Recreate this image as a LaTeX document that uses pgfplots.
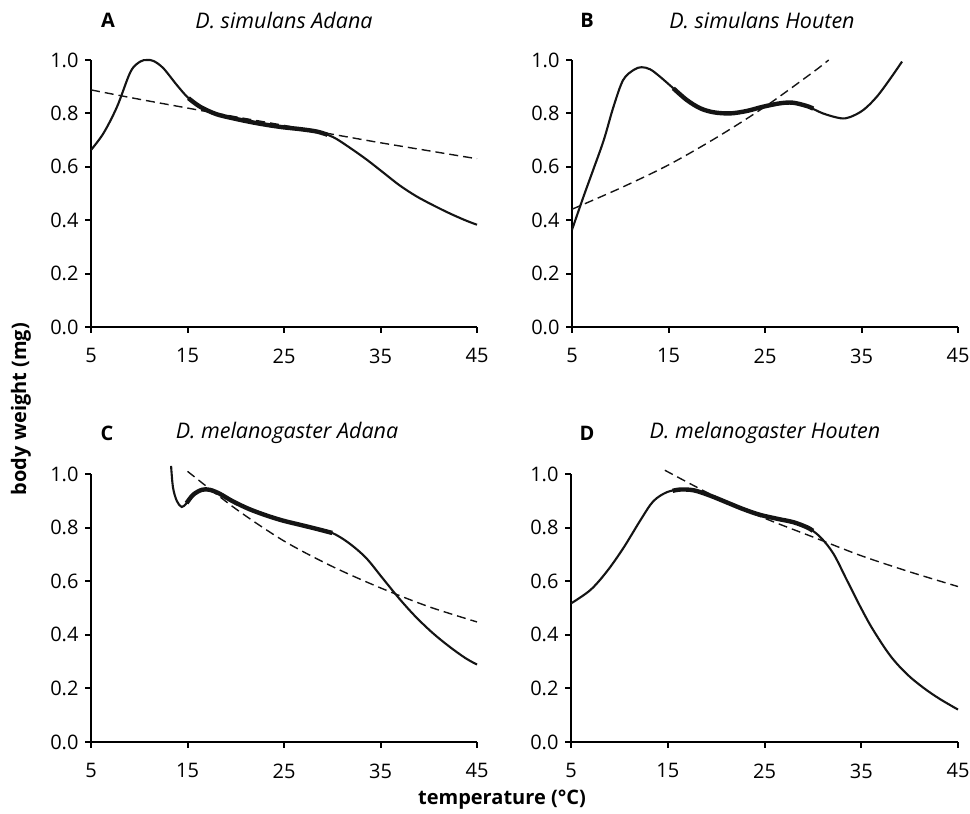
\documentclass[border=0pt]{standalone}
\usepackage{fontspec}
\setmainfont{Open Sans}
\usepackage{pgfplots}
\pgfplotsset{compat=1.18}
\begin{document}
\begin{tikzpicture}[x=1pt,y=1pt]
\path[use as bounding box] (0pt,0pt) rectangle (970pt,814pt);
\pgfplotsset{
  panel/.style={
    scale only axis, width=386pt, height=267pt,
    xmin=5, xmax=45, ymin=0, ymax=1,
    axis x line*=bottom, axis y line*=left,
    axis line style={line width=2.4pt, black},
    tick style={line width=2pt, black},
    major tick length=6pt, tick align=outside,
    xtick={5,15,25,35,45}, ytick={0,0.2,0.4,0.6,0.8,1},
    tick label style={font=\fontsize{20}{24}\selectfont},
    /pgf/number format/assume math mode=true,
    yticklabel style={xshift=-3pt, /pgf/number format/.cd, fixed, fixed zerofill, precision=1},
    xticklabel style={yshift=-12pt, /pgf/number format/.cd, fixed, precision=0},
    clip=false,
  },
  solid/.style={black!92, line width=2.1pt, smooth, tension=0.55, no marks},
  heavy/.style={black!92, line width=4.4pt, smooth, tension=0.55, no marks},
  fit/.style={black!92, line width=1.4pt, dash pattern=on 9pt off 5pt, smooth, no marks},
}
\newcommand{\ttl}{\fontsize{21.5}{25}\selectfont}
\newcommand{\lbl}{\fontsize{20}{24}\selectfont}
% ---------- A ----------
\begin{axis}[panel, at={(91pt,487pt)}, anchor=south west]
\addplot[solid] coordinates {(5,0.663)(6.3,0.726)(7.7,0.825)(9.1,0.956)(10.1,0.994)(10.8,1.0)(11.5,0.996)(12.5,0.969)(13.9,0.906)(15.1,0.857)(16.3,0.825)(18.0,0.797)(19.8,0.781)(21.5,0.768)(23.2,0.757)(24.9,0.748)(26.7,0.741)(28.4,0.732)(30.1,0.711)(31.8,0.672)(33.6,0.626)(35.3,0.578)(37.0,0.530)(38.7,0.490)(40.4,0.457)(42.2,0.425)(43.9,0.398)(45,0.383)};
\addplot[heavy] coordinates {(15.1,0.857)(16.3,0.825)(18.0,0.797)(19.8,0.781)(21.5,0.768)(23.2,0.757)(24.9,0.748)(26.7,0.741)(28.4,0.732)(29.5,0.720)};
\addplot[fit] coordinates {(5,0.888)(10,0.853)(15,0.820)(20,0.787)(25,0.755)(30,0.722)(35,0.690)(40,0.660)(45,0.630)};
\end{axis}
% ---------- B ----------
\begin{axis}[panel, at={(572pt,487pt)}, anchor=south west]
\addplot[solid] coordinates {(5,0.364)(6.2,0.489)(7.2,0.589)(8.3,0.701)(9.3,0.825)(10.3,0.925)(11.4,0.963)(12.2,0.973)(13.1,0.965)(14.1,0.938)(15.5,0.894)(16.9,0.850)(18.3,0.819)(19.7,0.804)(21.4,0.800)(23.1,0.809)(24.8,0.825)(26.6,0.838)(27.9,0.840)(29.3,0.828)(31.0,0.800)(32.8,0.782)(33.8,0.786)(35.2,0.813)(36.6,0.863)(38.0,0.931)(39.2,0.994)};
\addplot[heavy] coordinates {(15.5,0.894)(16.9,0.850)(18.3,0.819)(19.7,0.804)(21.4,0.800)(23.1,0.809)(24.8,0.825)(26.6,0.838)(27.9,0.840)(29.3,0.828)(30.0,0.818)};
\addplot[fit] coordinates {(5,0.441)(10,0.520)(15,0.607)(20,0.710)(25,0.825)(30,0.955)(31.6,1.0)};
\end{axis}
% ---------- C ----------
\begin{axis}[panel, at={(91pt,72pt)}, anchor=south west, height=268pt]
\addplot[solid] coordinates {(13.3,1.03)(13.5,0.949)(13.9,0.899)(14.4,0.877)(14.9,0.891)(15.6,0.923)(16.5,0.941)(17.3,0.941)(18.3,0.927)(19.7,0.898)(21.4,0.869)(23.2,0.845)(24.9,0.826)(26.6,0.811)(28.3,0.796)(30.0,0.780)(31.7,0.743)(33.5,0.687)(35.2,0.612)(36.9,0.537)(38.6,0.469)(40.4,0.407)(42.1,0.357)(43.8,0.313)(45,0.289)};
\addplot[heavy] coordinates {(14.9,0.891)(15.6,0.923)(16.5,0.941)(17.3,0.941)(18.3,0.927)(19.7,0.898)(21.4,0.869)(23.2,0.845)(24.9,0.826)(26.6,0.811)(28.3,0.796)(30.0,0.780)};
\addplot[fit] coordinates {(15,1.01)(20,0.87)(25,0.75)(30,0.655)(35,0.575)(40,0.505)(45,0.448)};
\end{axis}
% ---------- D ----------
\begin{axis}[panel, at={(571pt,72pt)}, anchor=south west, height=268pt, width=387pt]
\addplot[solid] coordinates {(5,0.517)(7,0.567)(8.7,0.636)(10.4,0.723)(12.2,0.829)(13.5,0.898)(14.9,0.932)(16.3,0.942)(17.7,0.939)(19.4,0.919)(21.1,0.894)(22.8,0.869)(24.5,0.848)(26.3,0.833)(28.0,0.820)(29.4,0.801)(30.7,0.767)(32.1,0.704)(33.5,0.605)(34.9,0.505)(36.2,0.420)(38.0,0.322)(39.7,0.254)(41.4,0.203)(43.1,0.161)(45,0.121)};
\addplot[heavy] coordinates {(15.5,0.937)(16.3,0.942)(17.7,0.939)(19.4,0.919)(21.1,0.894)(22.8,0.869)(24.5,0.848)(26.3,0.833)(28.0,0.820)(29.4,0.801)(30.0,0.788)};
\addplot[fit] coordinates {(14.7,1.014)(20,0.914)(25,0.835)(30,0.765)(35,0.695)(40,0.635)(45,0.58)};
\end{axis}
% ---------- titles ----------
\node[font=\lbl\bfseries] at (108pt,794pt) {A};
\node[font=\ttl\itshape] at (284pt,794pt) {D. simulans Adana};
\node[font=\lbl\bfseries] at (587pt,794pt) {B};
\node[font=\ttl\itshape] at (762pt,794pt) {D. simulans Houten};
\node[font=\lbl\bfseries] at (107pt,381pt) {C};
\node[font=\ttl\itshape] at (287pt,381pt) {D. melanogaster Adana};
\node[font=\lbl\bfseries] at (587pt,381pt) {D};
\node[font=\ttl\itshape] at (765pt,381pt) {D. melanogaster Houten};
\node[font=\lbl\bfseries, rotate=90] at (21pt,405pt) {body weight (mg)};
\node[font=\lbl\bfseries] at (502pt,14pt) {temperature (°C)};
\end{tikzpicture}
\end{document}
